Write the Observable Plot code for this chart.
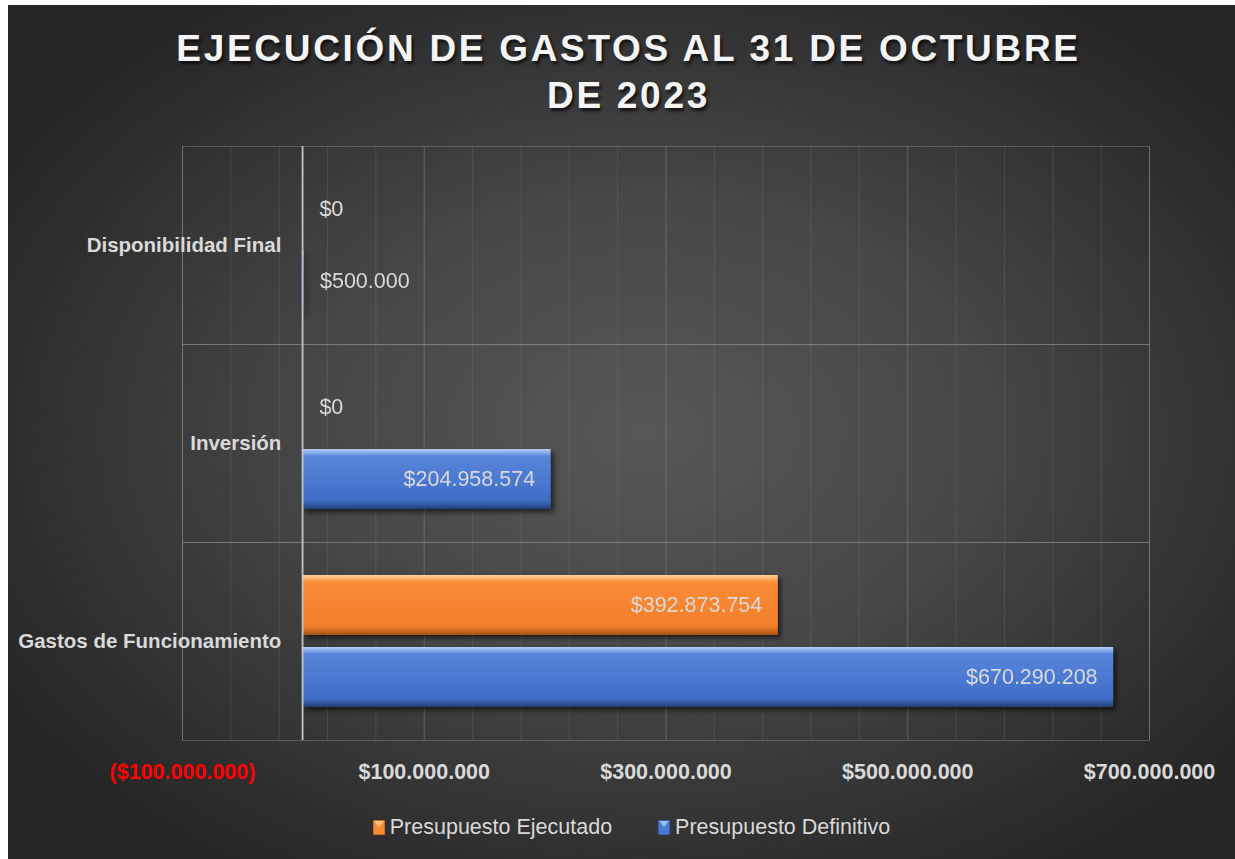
<!DOCTYPE html>
<html>
<head>
<meta charset="utf-8">
<script src="https://cdn.jsdelivr.net/npm/d3@7"></script>
<script src="https://cdn.jsdelivr.net/npm/@observablehq/plot@0.6"></script>
<style>
  html, body { margin: 0; padding: 0; background: #ffffff; }
  #chart {
    position: absolute; left: 8px; top: 5px; width: 1227px; height: 854px; overflow: hidden;
    background: radial-gradient(ellipse 60% 60% at 52% 50%, #575757 0%, #474747 45%, #2f2f2f 85%, #272727 100%);
    font-family: "Liberation Sans", Arial, sans-serif;
  }
  #title {
    height: 100px; padding-top: 20px; text-align: center; color: #f4f4f4;
    font-size: 37px; font-weight: bold; line-height: 47px; letter-spacing: 2.7px;
    text-shadow: 2px 3px 3px rgba(0,0,0,0.65); padding-left: 14px; box-sizing: content-box;
  }
  #plot svg { display: block; }
  #legend {
    display: flex; justify-content: center; align-items: center; padding-top: 24px; height: 24px;
    color: #d9d9d9; font-size: 21.5px; padding-left: 20px;
  }
  .item { display: flex; align-items: center; }
  .item svg { margin-right: 5px; }
</style>
</head>
<body>
<svg width="0" height="0" style="position:absolute">
  <defs>
    <linearGradient id="gOrange" x1="0" y1="0" x2="0" y2="1">
      <stop offset="0" stop-color="#ffd39c"/>
      <stop offset="0.07" stop-color="#ffab5e"/>
      <stop offset="0.12" stop-color="#fb8b37"/>
      <stop offset="0.85" stop-color="#f27f2a"/>
      <stop offset="0.93" stop-color="#cf6a1f"/>
      <stop offset="1" stop-color="#a34f14"/>
    </linearGradient>
    <linearGradient id="gBlue" x1="0" y1="0" x2="0" y2="1">
      <stop offset="0" stop-color="#b2cff7"/>
      <stop offset="0.07" stop-color="#80a6ea"/>
      <stop offset="0.12" stop-color="#5785d9"/>
      <stop offset="0.55" stop-color="#4a78d0"/>
      <stop offset="0.86" stop-color="#3f6cc4"/>
      <stop offset="0.93" stop-color="#30589f"/>
      <stop offset="1" stop-color="#233f74"/>
    </linearGradient>
    <filter id="shadow" x="-5%" y="-30%" width="115%" height="170%">
      <feDropShadow dx="3" dy="3" stdDeviation="2.5" flood-color="#000" flood-opacity="0.6"/>
    </filter>
  </defs>
</svg>
<div id="chart">
  <div id="title">EJECUCIÓN DE GASTOS AL 31 DE OCTUBRE<br>DE 2023</div>
  <div id="plot"></div>
  <div id="legend"></div>
</div>
<script>
// ---- data ----
const categories = ["Disponibilidad Final", "Inversión", "Gastos de Funcionamiento"];
const seriesNames = ["Presupuesto Ejecutado", "Presupuesto Definitivo"];
const ejecutado = [0, 0, 392873754];
const definitivo = [500000, 204958574, 670290208];
const xTicks = [-100000000, 100000000, 300000000, 500000000, 700000000];
const xDomain = [-100000000, 700000000];
const minorStep = 40000000;

// ---- table ----
const rows = [];
categories.forEach((c, i) => {
  rows.push({category: c, series: seriesNames[0], value: ejecutado[i]});
  rows.push({category: c, series: seriesNames[1], value: definitivo[i]});
});

const locale = d3.formatLocale({decimal: ",", thousands: ".", grouping: [3], currency: ["$", ""]});
const money = locale.format("$,.0f");
const fmt = d => d < 0 ? "(" + money(-d) + ")" : money(d);

const minorTicks = d3.range(xDomain[0], xDomain[1] + 1, minorStep);
const labelColor = "#d9d9d9";

const chart = Plot.plot({
  width: 1227,
  height: 666,
  marginTop: 20,
  marginBottom: 50,
  marginLeft: 174,
  marginRight: 86,
  style: {background: "transparent", color: labelColor, fontFamily: "Liberation Sans, Arial, sans-serif", overflow: "visible"},
  x: {domain: xDomain},
  y: {domain: seriesNames, paddingInner: 12 / 72, paddingOuter: 33 / 72, axis: null},
  fy: {domain: categories, padding: 0, axis: null, label: null},
  marks: [
    Plot.gridX(minorTicks, {stroke: "#9a9a9a", strokeOpacity: 0.18}),
    Plot.gridX(xTicks, {stroke: "#a0a0a0", strokeOpacity: 0.26}),
    Plot.frame({stroke: "#9a9a9a", strokeOpacity: 0.38}),
    Plot.barX(rows.filter(d => d.series === seriesNames[0]), {x: "value", y: "series", fy: "category", fill: "url(#gOrange)"}),
    Plot.barX(rows.filter(d => d.series === seriesNames[1]), {x: "value", y: "series", fy: "category", fill: "url(#gBlue)", insetLeft: -1}),
    Plot.ruleX([0], {stroke: "#c4c4c4", strokeWidth: 1.8, dx: -0.8}),
    Plot.text(categories, {fy: d => d, x: d => 0, text: d => d, textAnchor: "end", dx: -22,
      fontSize: 20.5, fontWeight: "bold", fill: labelColor}),
    Plot.text(rows.filter(d => d.value >= 100000000), {x: "value", y: "series", fy: "category", text: d => fmt(d.value),
      textAnchor: "end", dx: -16, fontSize: 21.5, fill: labelColor}),
    Plot.text(rows.filter(d => d.value < 100000000), {x: "value", y: "series", fy: "category", text: d => fmt(d.value),
      textAnchor: "start", dx: 16, fontSize: 21.5, fill: labelColor}),
    Plot.axisX(xTicks.filter(d => d >= 0), {tickSize: 0, tickPadding: 23, fontSize: 21.5, fontWeight: "bold",
      fill: labelColor, tickFormat: fmt, label: null}),
    Plot.axisX(xTicks.filter(d => d < 0), {tickSize: 0, tickPadding: 23, fontSize: 21.5, fontWeight: "bold",
      fill: "#ff0000", tickFormat: fmt, label: null})
  ]
});
document.getElementById("plot").appendChild(chart);
chart.querySelectorAll('g[aria-label="bar"]').forEach(g => g.setAttribute("filter", "url(#shadow)"));

// ---- legend ----
const legendColors = {"Presupuesto Ejecutado": ["#f58a32", "#ffc98f", "#a85213"], "Presupuesto Definitivo": ["#4a78d0", "#a9c8f5", "#24477f"]};
const legend = document.getElementById("legend");
seriesNames.forEach((s, i) => {
  const [c, hi, lo] = legendColors[s];
  const item = document.createElement("div");
  item.className = "item";
  if (i > 0) item.style.marginLeft = "46px";
  item.innerHTML = `<svg width="12" height="15"><rect x="0" y="0" width="12" height="15" fill="${c}" stroke="${lo}" stroke-width="1"/>` +
    `<path d="M1,1 L11,1 L6,7 Z" fill="${hi}" opacity="0.85"/></svg><span>${s}</span>`;
  legend.appendChild(item);
});
</script>
</body>
</html>
